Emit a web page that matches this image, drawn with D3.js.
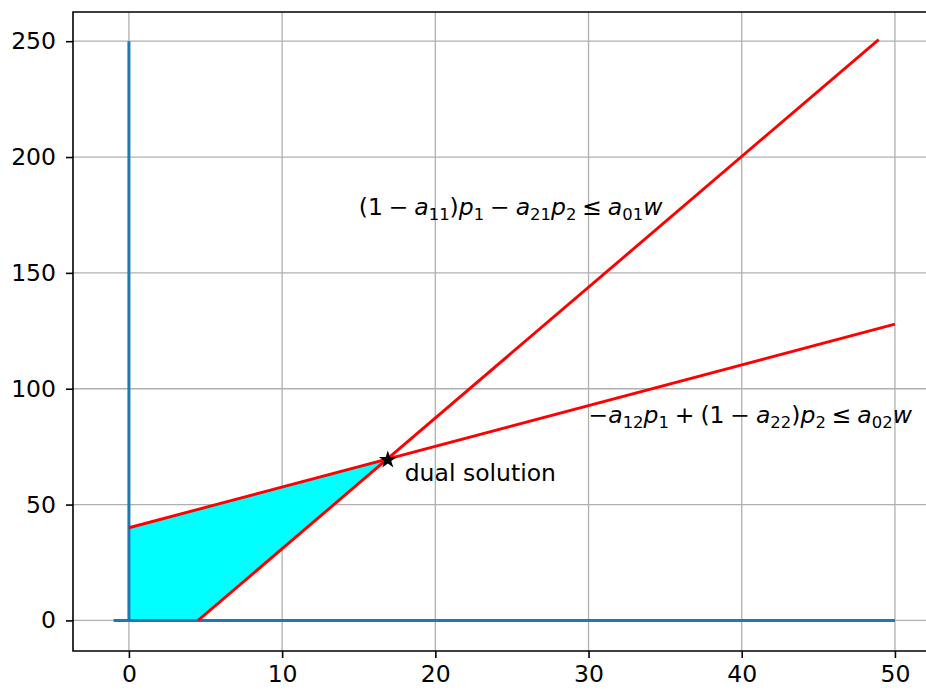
<!DOCTYPE html>
<html><head><meta charset="utf-8">
<script src="https://cdn.jsdelivr.net/npm/d3@7"></script>
<style>
html,body{margin:0;padding:0;background:#fff;}
text{font-family:"DejaVu Sans",sans-serif;}
</style></head>
<body><svg id="chart" width="926" height="690"></svg>
<script>
// ---- data ----
const xTicks = [0, 10, 20, 30, 40, 50];
const yTicks = [0, 50, 100, 150, 200, 250];
// non-negativity axes (blue)
const axisP1 = [[-1, 0], [50, 0]];
const axisP2 = [[0, 0], [0, 250]];
// constraint 1: (1-a11)p1 - a21 p2 <= a01 w   (p1, p2)
const line1 = [[4.52, 0], [48.94, 250.7]];
// constraint 2: -a12 p1 + (1-a22) p2 <= a02 w
const line2 = [[0, 40], [50, 127.9]];
// feasible region
const feasible = [[0, 0], [0, 40], [16.9, 69.6], [4.52, 0]];
const dualSolution = [16.9, 69.3];
const label1Pos = [15, 175];
const label2Pos = [30, 85];
const label3Pos = [18, 60];

const svg = d3.select("#chart");
const x = d3.scaleLinear().domain([-3.65, 52.55]).range([73, 934]);
const y = d3.scaleLinear().domain([-13.2, 262.6]).range([651, 12]);
const FS = 23.5;

// grid
const g = svg.append("g");
g.selectAll(".gx").data(xTicks).join("line")
  .attr("x1", d => x(d)).attr("x2", d => x(d)).attr("y1", 12).attr("y2", 651)
  .attr("stroke", "#b0b0b0").attr("stroke-width", 1.3);
g.selectAll(".gy").data(yTicks).join("line")
  .attr("x1", 73).attr("x2", 934).attr("y1", d => y(d)).attr("y2", d => y(d))
  .attr("stroke", "#b0b0b0").attr("stroke-width", 1.3);

const line = d3.line().x(d => x(d[0])).y(d => y(d[1]));

// fill
svg.append("path").attr("d", line(feasible) + "Z").attr("fill", "#00ffff");

// blue axes lines
[axisP1, axisP2].forEach(a => svg.append("path").attr("d", line(a))
  .attr("fill", "none").attr("stroke", "#1f77b4").attr("stroke-width", 3));

// red constraint lines
[line1, line2].forEach(a => svg.append("path").attr("d", line(a))
  .attr("fill", "none").attr("stroke", "#ff0000").attr("stroke-width", 2.9)
  .attr("stroke-linecap", "butt"));

// star
svg.append("path").attr("d", d3.symbol().type(d3.symbolStar).size(100)())
  .attr("transform", `translate(${x(dualSolution[0])},${y(dualSolution[1])})`)
  .attr("fill", "#000");

// frame
svg.append("path").attr("d", "M934,12 H73 V651 H934").attr("fill", "none")
  .attr("stroke", "#000").attr("stroke-width", 1.6);

// axes
const xAxis = d3.axisBottom(x).tickValues(xTicks).tickSize(7).tickPadding(7).tickFormat(d3.format("d"));
const yAxis = d3.axisLeft(y).tickValues(yTicks).tickSize(7).tickPadding(10).tickFormat(d3.format("d"));
const gx = svg.append("g").attr("transform", "translate(0,651)").call(xAxis);
const gy = svg.append("g").attr("transform", "translate(73,0)").call(yAxis);
[gx, gy].forEach(a => {
  a.select(".domain").remove();
  a.selectAll(".tick line").attr("stroke", "#000").attr("stroke-width", 1.6);
  a.selectAll(".tick text").attr("fill", "#000").style("font-size", FS + "px")
    .style("font-family", "DejaVu Sans");
});

// math labels
function mathText(pos, parts) {
  const t = svg.append("text").attr("x", x(pos[0])).attr("y", y(pos[1]))
    .style("font-size", FS + "px").attr("fill", "#000");
  let sub = false;
  parts.forEach(([s, k]) => {
    const ts = t.append("tspan").text(s);
    if (k === "i") ts.style("font-style", "italic");
    if (k === "s") {
      ts.style("font-size", (FS * 0.7) + "px");
      if (!sub) ts.attr("dy", 5);
      sub = true;
    } else {
      if (sub) ts.attr("dy", -5);
      sub = false;
    }
  });
  return t;
}
const sp = "\u2005";
mathText(label1Pos, [["(1" + sp + "\u2212" + sp, "n"], ["a", "i"], ["11", "s"], [")", "n"], ["p", "i"], ["1", "s"],
  [sp + "\u2212" + sp, "n"], ["a", "i"], ["21", "s"], ["p", "i"], ["2", "s"], [sp + "\u2264" + sp, "n"], ["a", "i"], ["01", "s"], ["w", "i"]]);
mathText(label2Pos, [["\u2212", "n"], ["a", "i"], ["12", "s"], ["p", "i"], ["1", "s"], [sp + "+" + sp + "(1" + sp + "\u2212" + sp, "n"],
  ["a", "i"], ["22", "s"], [")", "n"], ["p", "i"], ["2", "s"], [sp + "\u2264" + sp, "n"], ["a", "i"], ["02", "s"], ["w", "i"]]);
svg.append("text").attr("x", x(label3Pos[0])).attr("y", y(label3Pos[1]))
  .style("font-size", FS + "px").attr("fill", "#000").text("dual solution");
</script></body></html>
